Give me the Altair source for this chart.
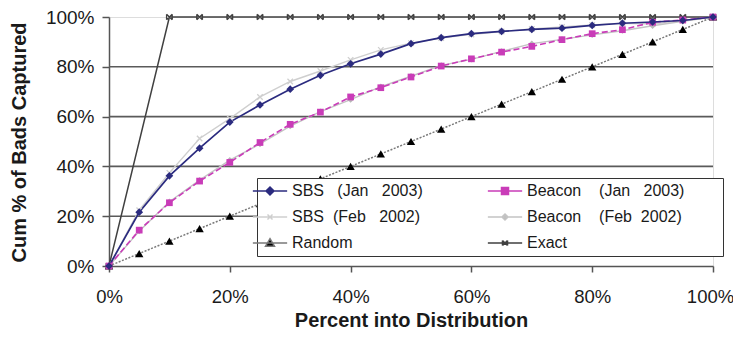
import altair as alt
import pandas as pd

N = "\u00a0"
PAD = "\u2800"
# series names (legend labels); legend is filled column by column
S_SBS_JAN = "SBS" + N * 3 + "(Jan" + N * 3 + "2003)"
S_SBS_FEB = "SBS" + N * 2 + "(Feb" + N * 3 + "2002)"
S_RANDOM = "Random"
S_BEA_JAN = "Beacon" + N * 4 + "(Jan" + N * 3 + "2003)" + N * 2 + PAD * 2
S_BEA_FEB = "Beacon" + N * 4 + "(Feb" + N * 2 + "2002)"
S_EXACT = "Exact"
series_order = [S_SBS_JAN, S_SBS_FEB, S_RANDOM, S_BEA_JAN, S_BEA_FEB, S_EXACT]

x_pct = [0, 5, 10, 15, 20, 25, 30, 35, 40, 45, 50, 55, 60, 65, 70, 75, 80, 85, 90, 95, 100]
sbs_jan = [0, 21.6, 36.2, 47.3, 57.8, 64.7, 71.0, 76.6, 81.2, 85.1, 89.3, 91.7, 93.3, 94.2, 95.0, 95.5, 96.6, 97.5, 98.0, 98.6, 100]
sbs_feb = [0, 22.4, 37.4, 51.2, 59.2, 67.9, 74.1, 78.3, 82.8, 86.8, 89.5, 91.5, 93.0, 94.2, 95.2, 96.0, 96.8, 97.5, 97.2, 98.5, 100]
beacon_jan = [0, 14.4, 25.4, 34.1, 41.6, 49.6, 56.9, 61.8, 67.9, 71.6, 75.9, 80.3, 83.2, 85.9, 88.2, 90.9, 93.3, 94.9, 97.9, 98.8, 100]
beacon_feb = [0, 14.0, 25.8, 34.5, 42.5, 49.0, 56.2, 62.0, 66.8, 72.0, 76.2, 80.6, 83.0, 86.2, 89.3, 91.0, 92.8, 94.5, 96.5, 98.3, 100]
random_y = [0, 5, 10, 15, 20, 25, 30, 35, 40, 45, 50, 55, 60, 65, 70, 75, 80, 85, 90, 95, 100]
exact_x = [0, 10, 15, 20, 25, 30, 35, 40, 45, 50, 55, 60, 65, 70, 75, 80, 85, 90, 95, 100]
exact_y = [0, 100, 100, 100, 100, 100, 100, 100, 100, 100, 100, 100, 100, 100, 100, 100, 100, 100, 100, 100]

grid_vals = [20, 40, 60, 80]
tick_vals = [0, 20, 40, 60, 80, 100]

# styles (same order as series_order)
stroke_range = ["#2b2b7f", "#cfcfcf", "#7a7a7a", "#c93cb8", "#c4c4c4", "#404040"]
fill_range = ["#2b2b7f", "transparent", "#000000", "#c93cb8", "#b8b8b8", "transparent"]
LINE = "M-2.45,0L2.45,0"
legend_shapes = [
    LINE + "M0,-0.57L0.57,0L0,0.57L-0.57,0Z",
    LINE + "M-0.36,-0.36L0.36,0.36M-0.36,0.36L0.36,-0.36",
    LINE + "M0,-0.62L0.64,0.46L-0.64,0.46Z",
    LINE + "M-0.5,-0.5L0.5,-0.5L0.5,0.5L-0.5,0.5Z",
    LINE + "M0,-0.43L0.43,0L0,0.43L-0.43,0Z",
    LINE + "M-0.36,-0.36L0.36,0.36M-0.36,0.36L0.36,-0.36M-0.36,-0.36L-0.36,0.36M0.36,-0.36L0.36,0.36",
]
XPATH = "M-1,-1L1,1M-1,1L1,-1"
EXPATH = "M-1,-1L1,1M-1,1L1,-1M-1,-1L-1,1M1,-1L1,1"

rows = []
def add(name, xs, ys):
    for a, b in zip(xs, ys):
        rows.append({"x": a, "y": b, "series": name})

add(S_EXACT, exact_x, exact_y)
add(S_RANDOM, x_pct, random_y)
add(S_SBS_FEB, x_pct, sbs_feb)
add(S_BEA_FEB, x_pct, beacon_feb)
add(S_BEA_JAN, x_pct, beacon_jan)
add(S_SBS_JAN, x_pct, sbs_jan)
df = pd.DataFrame(rows)

FONT = "Liberation Sans"
x_scale = alt.Scale(domain=[0, 100], nice=False)
y_scale = alt.Scale(domain=[0, 100], nice=False)
stroke_scale = alt.Scale(domain=series_order, range=stroke_range)
fill_scale = alt.Scale(domain=series_order, range=fill_range)
shape_scale = alt.Scale(domain=series_order, range=legend_shapes)

x_axis = alt.Axis(values=tick_vals, labelExpr="datum.value + '%'", grid=False,
                  labelFlush=False, labelOverlap=False,
                  labelOffset={"condition": {"test": "datum.value == 100", "value": -3}, "value": 0},
                  tickSize=6, labelPadding=15, domainColor="#555", tickColor="#555",
                  domainWidth=1.5, tickWidth=1.5,
                  labelFont=FONT, labelFontSize=18.5, labelColor="#1a1a1a",
                  title="Percent into Distribution", titleFont=FONT, titleFontSize=20,
                  titleFontWeight="bold", titleColor="#1a1a1a", titleY=60,
                  titleBaseline="alphabetic")
y_axis = alt.Axis(values=tick_vals, labelExpr="datum.value + '%'", grid=False,
                  labelFlush=False, labelOverlap=False,
                  tickSize=7, labelPadding=8, domainColor="#555", tickColor="#555",
                  domainWidth=1.5, tickWidth=1.5,
                  labelFont=FONT, labelFontSize=19, labelColor="#1a1a1a",
                  title="Cum % of Bads Captured", titleFont=FONT, titleFontSize=20,
                  titleFontWeight="bold", titleColor="#1a1a1a", titleX=-90, titleY=125,
                  titleAngle=-90, titleBaseline="middle", titleAlign="center")

leg = alt.Legend(title=None, orient="none", legendX=148, legendY=161, columns=2,
                 fillColor="white", strokeColor="#333333", padding=5,
                 rowPadding=10, columnPadding=61, symbolSize=196,
                 symbolStrokeWidth=1.5, symbolOpacity=1, labelFont=FONT,
                 labelFontSize=16, labelColor="#1a1a1a", labelOffset=14, labelLimit=400)

X = alt.X("x:Q", scale=x_scale, axis=x_axis)
Y = alt.Y("y:Q", scale=y_scale, axis=y_axis)

base = alt.Chart(df)

grid = alt.Chart(pd.DataFrame({"y": grid_vals})).mark_rule(
    color="#5a5a5a", strokeWidth=1.6
).encode(y=Y)

line_style = {
    S_EXACT: dict(strokeWidth=1.5),
    S_RANDOM: dict(strokeWidth=1.5, strokeDash=[2, 1.5]),
    S_SBS_FEB: dict(strokeWidth=1.4),
    S_BEA_FEB: dict(strokeWidth=1.4),
    S_BEA_JAN: dict(strokeWidth=1.6, strokeDash=[6, 3]),
    S_SBS_JAN: dict(strokeWidth=1.7),
}
point_style = {
    S_SBS_JAN: dict(shape="diamond", size=60, filled=True),
    S_BEA_JAN: dict(shape="square", size=45, filled=True),
    S_SBS_FEB: dict(shape=XPATH, size=30, filled=False),
    S_BEA_FEB: dict(shape="diamond", size=40, filled=True),
    S_RANDOM: dict(shape="triangle-up", size=70, filled=True),
    S_EXACT: dict(shape=EXPATH, size=32, filled=False),
}
draw_order = [S_EXACT, S_RANDOM, S_SBS_FEB, S_BEA_FEB, S_BEA_JAN, S_SBS_JAN]

line_layers = []
for name in draw_order:
    sub = df[df["series"] == name]
    line_layers.append(
        alt.Chart(sub).mark_line(**line_style[name]).encode(
            x=X, y=Y,
            stroke=alt.Stroke("series:N", scale=stroke_scale, legend=leg),
        )
    )

point_layers = []
for name in draw_order:
    st = point_style[name]
    sub = df[df["series"] == name]
    enc = dict(x=X, y=Y)
    if st["filled"]:
        mk = alt.Chart(sub).mark_point(shape=st["shape"], size=st["size"], filled=True,
                                       opacity=1, strokeWidth=0)
        enc["fill"] = alt.Fill("series:N", scale=fill_scale, legend=leg)
    else:
        mk = alt.Chart(sub).mark_point(shape=st["shape"], size=st["size"], filled=False,
                                       opacity=1, strokeWidth=1.3)
        enc["stroke"] = alt.Stroke("series:N", scale=stroke_scale, legend=leg)
    point_layers.append(mk.encode(**enc))

legend_layer = base.transform_filter("false").mark_point(
    filled=True, opacity=1, strokeWidth=1.5, size=196
).encode(
    x=X, y=Y,
    shape=alt.Shape("series:N", scale=shape_scale, legend=leg),
    fill=alt.Fill("series:N", scale=fill_scale, legend=leg),
    stroke=alt.Stroke("series:N", scale=stroke_scale, legend=leg),
)

chart = alt.layer(grid, *line_layers, *point_layers, legend_layer).properties(
    width=604, height=249,
    padding={"left": 101, "top": 9, "right": 20, "bottom": 64},
    autosize=alt.AutoSizeParams(type="none"),
).configure_view(stroke="#b0b0b0", strokeWidth=1.5).configure(background="white")

chart.save("out.html", embed_options={"renderer": "svg", "actions": False})
